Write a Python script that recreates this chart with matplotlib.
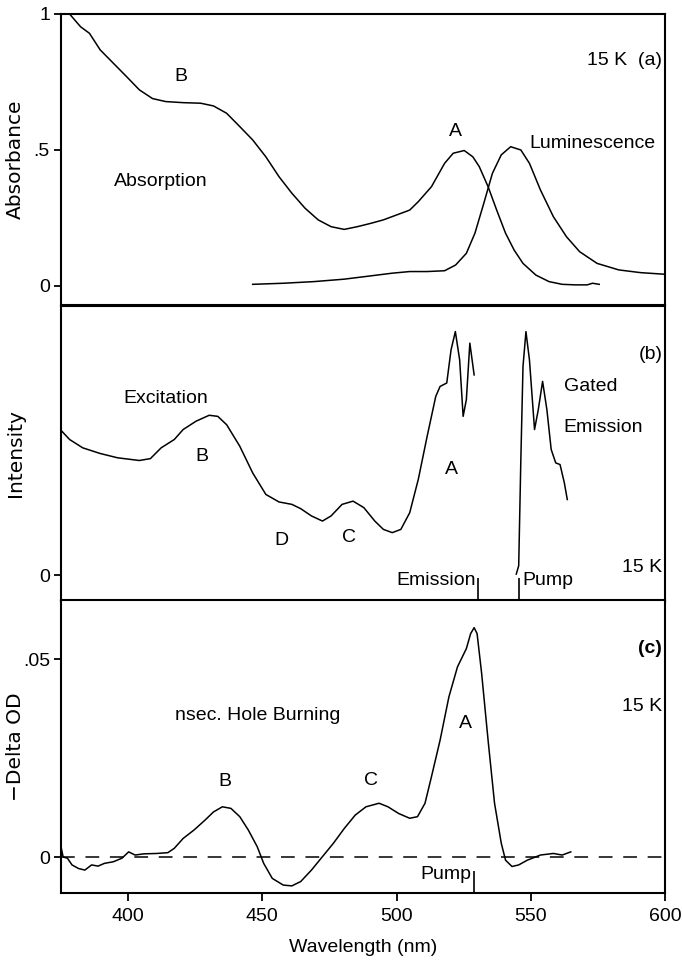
import numpy as np
import matplotlib
matplotlib.use("Agg")
from matplotlib import pyplot as plt

plt.rcParams['font.family'] = ['Liberation Sans', 'DejaVu Sans']

# (a) absorption and luminescence
abs_nm = [375, 378.2, 382.3, 385.6, 389.6, 394.5, 399.4, 404.2, 409.1, 414, 420.5, 427, 431.8,
          436.7, 441.6, 446.4, 451.3, 456.2, 461, 465.9, 470.8, 475.6, 480.5, 485.4, 490.3, 495.1,
          500, 504.9, 508.1, 513, 517.9, 521.1, 525.2, 528.4, 530.8, 534.1, 537.3, 540.6, 543.8,
          547.1, 551.9, 556.8, 561.7, 566.6, 571, 573, 575.5]
abs_val = [1.0, 1.0, 0.953, 0.929, 0.868, 0.819, 0.770, 0.721, 0.689, 0.678, 0.674, 0.672, 0.662,
           0.635, 0.586, 0.537, 0.475, 0.402, 0.341, 0.286, 0.243, 0.218, 0.208, 0.218, 0.230, 0.243,
           0.261, 0.279, 0.310, 0.365, 0.451, 0.488, 0.498, 0.475, 0.439, 0.365, 0.279, 0.194, 0.132,
           0.083, 0.040, 0.016, 0.006, 0.004, 0.004, 0.010, 0.006]

lum_nm = [446.4, 457.8, 469.2, 480.5, 490.3, 498.4, 504.9, 511.4, 517.9, 522, 526, 529.2, 532.5,
          535.7, 539, 542.5, 546.3, 549.5, 553.6, 558.4, 563.3, 568.2, 574.7, 582.8, 590.9, 600]
lum_val = [0.006, 0.010, 0.016, 0.025, 0.037, 0.047, 0.053, 0.053, 0.056, 0.077, 0.120, 0.194, 0.304,
           0.414, 0.482, 0.512, 0.500, 0.451, 0.353, 0.255, 0.181, 0.126, 0.083, 0.059, 0.049, 0.043]

# (b) excitation and gated emission
exc_nm = [375.3, 378.2, 383.1, 389.6, 396.1, 404.2, 408.3, 412.3, 417.2, 420.5, 425.3, 430.2, 433.4,
          436.7, 441.6, 446.4, 451.3, 456.2, 461, 464.3, 468.3, 472.4, 475.6, 479.7, 483.8, 487.8,
          491.9, 495.1, 498.4, 501.6, 504.9, 508.1, 511.4, 514.6, 516.2, 518.7, 520.3, 521.9, 523.5,
          524.8, 526, 527.3, 528.9]
exc_val = [0.535, 0.504, 0.473, 0.452, 0.436, 0.426, 0.433, 0.473, 0.504, 0.541, 0.572, 0.594, 0.590,
           0.559, 0.479, 0.380, 0.300, 0.272, 0.263, 0.247, 0.220, 0.201, 0.220, 0.263, 0.275, 0.251,
           0.201, 0.170, 0.158, 0.170, 0.232, 0.356, 0.516, 0.664, 0.701, 0.714, 0.837, 0.905, 0.800,
           0.590, 0.652, 0.862, 0.744]

gem_nm = [544.6, 545.5, 546.3, 547.1, 548.2, 549.5, 551.4, 552.8, 554.4, 556, 557.6, 559.3, 560.9,
          562.5, 563.6]
gem_val = [0.004, 0.035, 0.430, 0.775, 0.905, 0.800, 0.541, 0.615, 0.720, 0.615, 0.467, 0.417, 0.411,
           0.343, 0.281]

# (c) nsec hole burning, -delta OD
hb_nm = [375, 375.8, 377.4, 379.1, 381.5, 383.9, 386.4, 388.8, 391.2, 394.5, 397.7, 400.2, 402.6,
         405.8, 410.7, 414.8, 417.2, 420.5, 424.5, 428.6, 431.8, 435.1, 438.3, 441.6, 444.8, 448.1,
         450.5, 453.7, 457.8, 461, 464.3, 468.3, 472.4, 476.5, 480.5, 484.6, 488.6, 493.5, 496.8,
         500.8, 504.9, 507.8, 510.6, 513, 516.2, 519.5, 522.7, 526, 527.6, 528.9, 530, 531.7, 534.1,
         536.5, 539, 540.6, 543, 545.5, 548.7, 553.6, 558.4, 561.7, 564.9]
hb_val = [0.0026, 0.0, -0.0003, -0.002, -0.0029, -0.0033, -0.002, -0.0023, -0.0016, -0.0012, -0.0003,
          0.0013, 0.0005, 0.0008, 0.0009, 0.0011, 0.0022, 0.0047, 0.0068, 0.0093, 0.0114, 0.0127,
          0.0123, 0.0102, 0.0068, 0.0026, -0.0016, -0.0054, -0.0071, -0.0073, -0.0062, -0.0033,
          0.0001, 0.0035, 0.0072, 0.0106, 0.0127, 0.0136, 0.0127, 0.0110, 0.0098, 0.0102, 0.0136,
          0.0203, 0.0295, 0.0405, 0.0481, 0.0527, 0.0565, 0.0580, 0.0565, 0.0464, 0.0295, 0.0136,
          0.0035, -0.0008, -0.0024, -0.002, -0.0008, 0.0005, 0.0009, 0.0005, 0.0013]

x_ticks = [400, 450, 500, 550, 600]
emission_mark = 530.5
pump_mark_b = 545.5
pump_mark_c = 529

fig = plt.figure(figsize=(6.82, 9.69), dpi=100)
W, H = 682, 969
def box(top, bottom):
    return [61 / W, 1 - bottom / H, (665 - 61) / W, (bottom - top) / H]

ax1 = fig.add_axes(box(14, 305))
ax2 = fig.add_axes(box(306, 601))
ax3 = fig.add_axes(box(600, 893))

lw = 1.1
lab = dict(fontsize=14)
ylab = dict(family='DejaVu Sans', fontsize=14.5)
for ax in (ax1, ax2, ax3):
    ax.set_xlim(375, 600)
    for s in ax.spines.values():
        s.set_linewidth(1.5)
    ax.tick_params(axis='y', direction='out', length=5, width=1.3, labelsize=14, pad=3)
    ax.tick_params(axis='x', direction='out', length=6, width=1.3, labelsize=14, pad=5)
    ax.yaxis.set_label_coords(-0.06, 0.5)

# panel a
ax1.plot(abs_nm, abs_val, color='black', lw=lw)
ax1.plot(lum_nm, lum_val, color='black', lw=lw)
ax1.set_ylim(-0.07, 1.0)
ax1.set_yticks([0, 0.5, 1])
ax1.set_yticklabels(['0', '.5', '1'])
ax1.set_xticks([])
ax1.set_ylabel('Absorbance', **ylab)
ax1.text(419.7, 0.77, 'B', ha='center', va='center', **lab)
ax1.text(412.3, 0.384, 'Absorption', ha='center', va='center', **lab)
ax1.text(521.9, 0.567, 'A', ha='center', va='center', **lab)
ax1.text(573.1, 0.525, 'Luminescence', ha='center', va='center', **lab)
ax1.text(599, 0.83, '15 K  (a)', ha='right', va='center', **lab)

# panel b
ax2.plot(exc_nm, exc_val, color='black', lw=lw)
ax2.plot(gem_nm, gem_val, color='black', lw=lw)
ax2.set_ylim(-0.096, 1.0)
ax2.set_yticks([0])
ax2.set_yticklabels(['0'])
ax2.set_xticks([])
ax2.set_ylabel('Intensity', **ylab)
ax2.vlines([emission_mark, pump_mark_b], -0.096, -0.01, color='black', lw=1.2)
ax2.text(414, 0.658, 'Excitation', ha='center', va='center', **lab)
ax2.text(427.3, 0.442, 'B', ha='center', va='center', **lab)
ax2.text(457, 0.127, 'D', ha='center', va='center', **lab)
ax2.text(482.1, 0.140, 'C', ha='center', va='center', **lab)
ax2.text(520.3, 0.393, 'A', ha='center', va='center', **lab)
ax2.text(572.2, 0.701, 'Gated', ha='center', va='center', **lab)
ax2.text(577.1, 0.547, 'Emission', ha='center', va='center', **lab)
ax2.text(599, 0.819, '(b)', ha='right', va='center', **lab)
ax2.text(599, 0.028, '15 K', ha='right', va='center', **lab)
ax2.text(529.6, -0.021, 'Emission', ha='right', va='center', **lab)
ax2.text(546.8, -0.021, 'Pump', ha='left', va='center', **lab)

# panel c
ax3.plot(hb_nm, hb_val, color='black', lw=lw)
ax3.axhline(0, color='black', lw=1.1, ls=(0, (9, 7)))
ax3.set_ylim(-0.0091, 0.065)
ax3.set_yticks([0, 0.05])
ax3.set_yticklabels(['0', '.05'])
ax3.set_xticks(x_ticks)
ax3.set_ylabel('\u2212Delta OD', **ylab)
ax3.set_xlabel('Wavelength (nm)', fontsize=14, labelpad=10)
ax3.vlines([pump_mark_c], -0.0091, -0.0035, color='black', lw=1.2)
ax3.text(448.1, 0.0359, 'nsec. Hole Burning', ha='center', va='center', **lab)
ax3.text(435.9, 0.019, 'B', ha='center', va='center', **lab)
ax3.text(490.6, 0.0193, 'C', ha='center', va='center', **lab)
ax3.text(525.6, 0.0338, 'A', ha='center', va='center', **lab)
ax3.text(599, 0.0527, '(c)', ha='right', va='center', fontweight='bold', **lab)
ax3.text(599, 0.038, '15 K', ha='right', va='center', **lab)
ax3.text(528, -0.0045, 'Pump', ha='right', va='center', **lab)

fig.savefig('out.png', dpi=100)
